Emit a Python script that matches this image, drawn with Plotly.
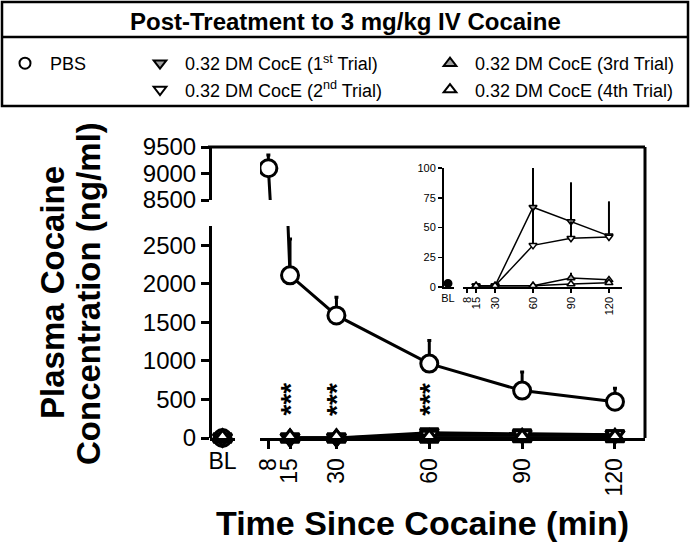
import plotly.graph_objects as go

W, H = 690, 548
def PX(p): return p / W
def PY(p): return 1 - p / H

# ---------------- data ----------------
times = [8, 15, 30, 60, 90, 120]
trial_times = [15, 30, 60, 90, 120]
bl_cat = ["BL"]

pbs_mean = [9100, 2110, 1590, 965, 615, 470]
pbs_sem = [250, 470, 235, 300, 240, 175]
pbs_bl = [0]
pbs_bl_inset = [3]

t1_mean = [1, 1, 67, 55, 43]
t1_sem = [0.5, 0.5, 33, 33, 29]
t2_mean = [1, 1, 35, 41, 42]
t2_sem = [0.5, 0.5, 31, 14, 0]
t3_mean = [1, 1, 1, 7.5, 6]
t3_sem = [0.5, 0.5, 0.5, 4.5, 1.5]
t4_mean = [1, 1, 1, 2.5, 3.5]
t4_sem = [0.5, 0.5, 0.5, 1, 1]
trials_bl = [0, 0, 0, 0]

star_times = [15, 30, 60]
star_text = ["***", "***", "***"]

x_ticks = [8, 15, 30, 60, 90, 120]
y_low_ticks = [0, 500, 1000, 1500, 2000, 2500]
y_high_ticks = [8500, 9000, 9500]
inset_y_ticks = [0, 25, 50, 75, 100]

names = ["PBS", "0.32 DM CocE (1<sup>st</sup> Trial)", "0.32 DM CocE (2<sup>nd</sup> Trial)",
         "0.32 DM CocE (3rd Trial)", "0.32 DM CocE (4th Trial)"]

GRAY = "#a0a0a0"
series = [
    dict(mean=t1_mean, sem=t1_sem, sym="triangle-down", fill=GRAY),
    dict(mean=t2_mean, sem=t2_sem, sym="triangle-down", fill="white"),
    dict(mean=t3_mean, sem=t3_sem, sym="triangle-up", fill=GRAY),
    dict(mean=t4_mean, sem=t4_sem, sym="triangle-up", fill="white"),
]

FONT = "Liberation Sans, Arial, sans-serif"
fig = go.Figure()

def err(arr, th=2.5, w=0):
    return dict(type="data", symmetric=False, array=arr, arrayminus=[0] * len(arr),
                color="black", thickness=th, width=w)

# ---- main lower panel ----
fig.add_trace(go.Scatter(x=times, y=pbs_mean, xaxis="x2", yaxis="y", mode="lines+markers",
                         line=dict(color="black", width=3),
                         marker=dict(symbol="circle", size=17, color="white", line=dict(color="black", width=3)),
                         error_y=err(pbs_sem, 3, 2), cliponaxis=True, showlegend=False))
for s in series:
    fig.add_trace(go.Scatter(x=trial_times, y=s["mean"], xaxis="x2", yaxis="y", mode="lines+markers",
                             line=dict(color="black", width=3),
                             marker=dict(symbol=s["sym"], size=16, color=s["fill"], line=dict(color="black", width=3)),
                             error_y=err(s["sem"], 3), cliponaxis=False, showlegend=False))
# BL lower
fig.add_trace(go.Scatter(x=bl_cat, y=pbs_bl, xaxis="x", yaxis="y", mode="markers",
                         marker=dict(symbol="circle", size=17, color="white", line=dict(color="black", width=3)),
                         cliponaxis=False, showlegend=False))
for i, s in enumerate(series):
    fig.add_trace(go.Scatter(x=bl_cat, y=[trials_bl[i]], xaxis="x", yaxis="y", mode="markers",
                             marker=dict(symbol=s["sym"], size=16, color=s["fill"], line=dict(color="black", width=3)),
                             cliponaxis=False, showlegend=False))

# ---- main upper panel ----
fig.add_trace(go.Scatter(x=times, y=pbs_mean, xaxis="x3", yaxis="y2", mode="lines+markers",
                         line=dict(color="black", width=3),
                         marker=dict(symbol="circle", size=17, color="white", line=dict(color="black", width=3)),
                         error_y=err(pbs_sem, 3, 2), cliponaxis=True, showlegend=False))

# ---- inset ----
fig.add_trace(go.Scatter(x=bl_cat, y=pbs_bl_inset, xaxis="x4", yaxis="y3", mode="markers",
                         marker=dict(symbol="circle", size=7, color="black", line=dict(color="black", width=2)),
                         cliponaxis=False, showlegend=False))
for s in series:
    fig.add_trace(go.Scatter(x=trial_times, y=s["mean"], xaxis="x5", yaxis="y3", mode="lines+markers",
                             line=dict(color="black", width=1.5),
                             marker=dict(symbol=s["sym"], size=7, color=s["fill"], line=dict(color="black", width=1.5)),
                             error_y=err(s["sem"], 2), cliponaxis=False, showlegend=False))

# ---- legend-only traces ----
leg_ids = ["legend", "legend2", "legend2", "legend3", "legend3"]
leg_syms = ["circle", "triangle-down", "triangle-down", "triangle-up", "triangle-up"]
leg_fill = ["white", GRAY, "white", GRAY, "white"]
for i in range(5):
    fig.add_trace(go.Scatter(x=[None], y=[None], xaxis="x2", yaxis="y", mode="markers", name=names[i],
                             legend=leg_ids[i],
                             marker=dict(symbol=leg_syms[i], size=11, color=leg_fill[i],
                                         line=dict(color="black", width=2))))

axis_common = dict(showline=True, linecolor="black", linewidth=3, ticks="outside", ticklen=8,
                   tickwidth=3, tickcolor="black", showgrid=False, zeroline=False, automargin=False,
                   tickfont=dict(family=FONT, size=23, color="black"))
inset_common = dict(showline=True, linecolor="black", linewidth=1.5, ticks="outside", ticklen=4,
                    tickwidth=1.5, tickcolor="black", showgrid=False, zeroline=False, automargin=False,
                    tickfont=dict(family=FONT, size=11, color="black"))
ytickfont = dict(family=FONT, size=24, color="black")

y_low_dom = [PY(438), PY(226)]
y_high_dom = [PY(200), PY(147)]
inset_y_dom = [PY(287), PY(168)]

leg_common = dict(yanchor="top", xanchor="left", bgcolor="rgba(0,0,0,0)", borderwidth=0,
                  font=dict(family=FONT, size=18, color="black"), tracegroupgap=0, itemwidth=40)

fig.update_layout(
    width=W, height=H, margin=dict(l=0, r=0, t=0, b=0, pad=0, autoexpand=False),
    paper_bgcolor="white", plot_bgcolor="rgba(0,0,0,0)",
    font=dict(family=FONT, color="black"),
    xaxis=dict(domain=[PX(210), PX(235)], anchor="y", type="category", range=[-0.5, 0.5],
               **{**axis_common, "ticks": ""}, tickangle=0),
    xaxis2=dict(domain=[PX(260), PX(645)], anchor="y", range=[5.3, 129.7],
                tickvals=x_ticks, ticktext=[str(t) for t in x_ticks], tickangle=-90, **axis_common),
    xaxis3=dict(domain=[PX(260), PX(645)], anchor="y2", range=[5.3, 129.7], visible=False),
    yaxis=dict(domain=y_low_dom, anchor="free", position=PX(210), range=[0, 2750],
               tickvals=y_low_ticks, **{**axis_common, "tickfont": ytickfont}),
    yaxis2=dict(domain=y_high_dom, anchor="free", position=PX(210), range=[8500, 9500],
                tickvals=y_high_ticks, **{**axis_common, "tickfont": ytickfont}),
    xaxis4=dict(domain=[PX(442), PX(454)], anchor="y3", type="category", range=[-0.5, 0.5],
                **{**inset_common, "ticks": ""}),
    xaxis5=dict(domain=[PX(463), PX(622)], anchor="y3", range=[4.7, 130.3],
                tickvals=x_ticks, tickangle=-90, **inset_common),
    yaxis3=dict(domain=inset_y_dom, anchor="free", position=PX(442), range=[0, 100],
                tickvals=inset_y_ticks, **inset_common),
    legend=dict(x=PX(0), y=PY(45), **leg_common),
    legend2=dict(x=PX(135), y=PY(45), **leg_common),
    legend3=dict(x=PX(425), y=PY(45), **leg_common),
    showlegend=True,
)

# frame lines and legend box
shapes = [
    dict(type="line", xref="paper", yref="paper", x0=PX(208), x1=PX(645), y0=PY(147), y1=PY(147),
         line=dict(color="black", width=3)),
    dict(type="line", xref="paper", yref="paper", x0=PX(645), x1=PX(645), y0=PY(147), y1=PY(438),
         line=dict(color="black", width=3)),
    dict(type="rect", xref="paper", yref="paper", x0=PX(2), x1=PX(688), y0=PY(2), y1=PY(106),
         line=dict(color="black", width=2.5)),
    dict(type="line", xref="paper", yref="paper", x0=PX(2), x1=PX(688), y0=PY(37), y1=PY(37),
         line=dict(color="black", width=2.5)),
]
fig.update_layout(shapes=shapes)

ann = [
    dict(text="<b>Post-Treatment to 3 mg/kg IV Cocaine</b>", xref="paper", yref="paper",
         x=PX(345), y=PY(21), xanchor="center", yanchor="middle", showarrow=False,
         font=dict(family=FONT, size=24)),
    dict(text="<b>Plasma Cocaine</b>", xref="paper", yref="paper",
         x=PX(52), y=PY(293), xanchor="center", yanchor="middle", textangle=-90, showarrow=False,
         font=dict(family=FONT, size=33)),
    dict(text="<b>Concentration (ng/ml)</b>", xref="paper", yref="paper",
         x=PX(88), y=PY(294), xanchor="center", yanchor="middle", textangle=-90, showarrow=False,
         font=dict(family=FONT, size=33)),
    dict(text="<b>Time Since Cocaine (min)</b>", xref="paper", yref="paper",
         x=PX(422), y=PY(523), xanchor="center", yanchor="middle", showarrow=False,
         font=dict(family=FONT, size=34)),
]
for t, s in zip(star_times, star_text):
    ann.append(dict(text="<b>" + s + "</b>", xref="x2", yref="y", x=t, y=500, textangle=-90,
                    xanchor="center", yanchor="middle", showarrow=False,
                    font=dict(family=FONT, size=28)))
fig.update_layout(annotations=ann)

fig.write_html("out.html", config={"displayModeBar": False, "staticPlot": True},
               post_script="document.body.style.margin='0';document.body.style.overflow='hidden';")
